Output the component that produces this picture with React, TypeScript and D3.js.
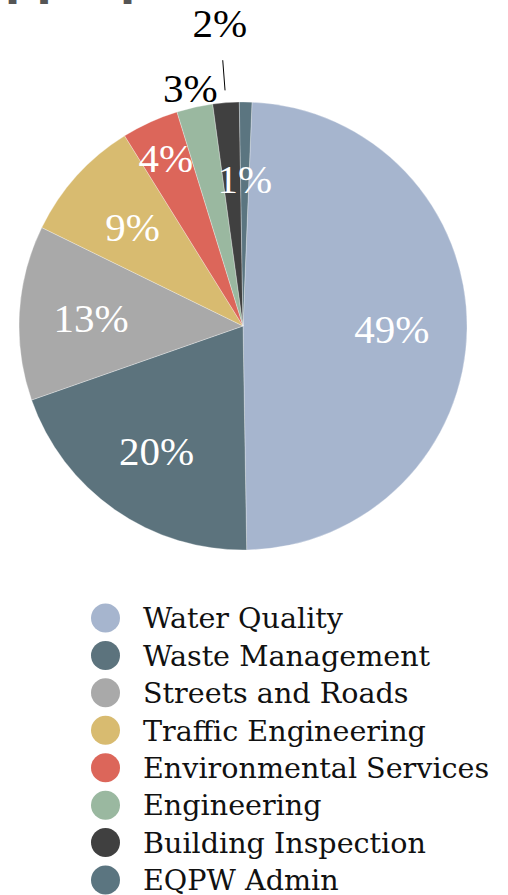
import React from "react";
import * as d3 from "d3";

const categories = [
  "Water Quality",
  "Waste Management",
  "Streets and Roads",
  "Traffic Engineering",
  "Environmental Services",
  "Engineering",
  "Building Inspection",
  "EQPW Admin",
];
const values = [49.1, 19.9, 12.6, 8.9, 4.1, 2.6, 1.9, 0.9];
const percentLabels = ["49%", "20%", "13%", "9%", "4%", "3%", "2%", "1%"];
const colors = ["#a6b5ce", "#5c737d", "#a9a9a9", "#d8bb70", "#dc665a", "#9ab8a0", "#404040", "#5b7580"];
// label placement radius (fraction of pie radius) and whether label is outside
const labelRadius = [0.665, 0.675, 0.68, 0.665, 0.83, 1.09, 1.36, 0.66];
const labelOutside = [false, false, false, false, false, true, true, false];
const leaderLine = [null, null, null, null, null, null, [1.055, 1.19], null];
const titleText = "Appropriations";

export default function App() {
  const W = 508, H = 895;
  const cx = 243, cy = 326, R = 224;
  const start = (2.3 * Math.PI) / 180;
  const pie = d3.pie<number>().sort(null).startAngle(start).endAngle(start + 2 * Math.PI);
  const arcs = pie(values);
  const arc = d3.arc<d3.PieArcDatum<number>>().innerRadius(0).outerRadius(R);

  const legendY = d3.scalePoint<string>().domain(categories).range([618, 880]);

  return (
    <svg width={W} height={H} style={{ position: "absolute", left: 0, top: 0, background: "#fff" }}>
      <text x={-29} y={-5} fontFamily="DejaVu Sans" fontWeight="bold" fontSize={44} fill="#555">
        {titleText}
      </text>
      <g transform={`translate(${cx},${cy})`}>
        {arcs.map((a, i) => (
          <path key={i} d={arc(a) || ""} fill={colors[i]} stroke="#fff" strokeWidth={0.3} />
        ))}
        {arcs.map((a, i) => {
          const r = R * labelRadius[i];
          const mid = (a.startAngle + a.endAngle) / 2;
          const x = r * Math.sin(mid);
          const y = -r * Math.cos(mid);
          const ll = leaderLine[i];
          return (
            <g key={"l" + i}>
              {ll && (
                <line
                  x1={R * ll[0] * Math.sin(mid)}
                  y1={-R * ll[0] * Math.cos(mid)}
                  x2={R * ll[1] * Math.sin(mid)}
                  y2={-R * ll[1] * Math.cos(mid)}
                  stroke="#000"
                  strokeWidth={1}
                />
              )}
              <text
                x={x}
                y={y}
                dy="0.36em"
                textAnchor="middle"
                fontFamily="Liberation Serif"
                fontSize={41}
                fill={labelOutside[i] ? "#000" : "#fff"}
              >
                {percentLabels[i]}
              </text>
            </g>
          );
        })}
      </g>
      <g>
        {categories.map((c, i) => (
          <g key={c} transform={`translate(0,${legendY(c)})`}>
            <circle cx={105.5} cy={0} r={14.5} fill={colors[i]} />
            <text x={143} y={0} dy="0.36em" fontFamily="DejaVu Serif" fontSize={28.6} fill="#111">
              {c}
            </text>
          </g>
        ))}
      </g>
    </svg>
  );
}
